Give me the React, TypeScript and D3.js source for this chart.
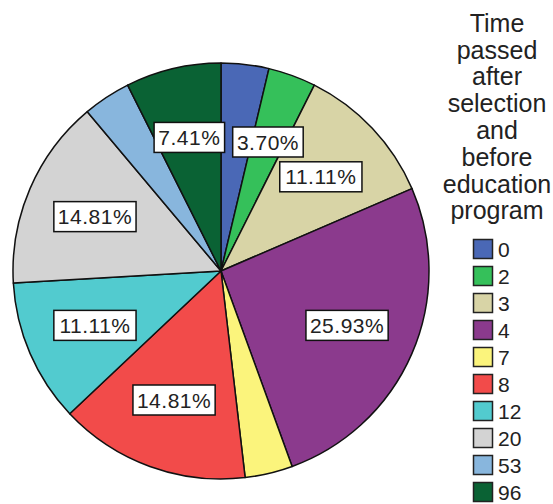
import React from "react";
import * as d3 from "d3";

const categories = ["0", "2", "3", "4", "7", "8", "12", "20", "53", "96"];
const counts = [1, 1, 3, 7, 1, 4, 3, 4, 1, 2];
const colors = ["#4a68b6", "#35c05a", "#d8d4a6", "#8b3a8d", "#fbf47c", "#f24b4a", "#52cbcf", "#d3d3d3", "#88b6dd", "#0a6234"];
const showLabel = [false, true, true, true, false, true, true, true, false, true];
const titleLines = ["Time", "passed", "after", "selection", "and", "before", "education", "program"];

const W = 553, H = 504;
const cx = 221, cy = 271, R = 208;
const FONT = "'Liberation Sans', Arial, sans-serif";

export default function App() {
  const total = d3.sum(counts);
  const pie = d3.pie<number>().sort(null).value((d) => d)(counts);
  const arc = d3.arc<d3.PieArcDatum<number>>().innerRadius(0).outerRadius(R);
  const labelArc = d3.arc<d3.PieArcDatum<number>>().innerRadius(R * 0.66).outerRadius(R * 0.66);
  const fmt = (v: number) => ((v / total) * 100).toFixed(2) + "%";
  const labelFont = 21;
  const legendY = d3.scaleBand<string>().domain(categories).range([239, 239 + 27 * categories.length]);

  return (
    <svg width={W} height={H} style={{ position: "absolute", left: 0, top: 0, background: "#fff" }}>
      <g transform={`translate(${cx},${cy})`}>
        {pie.map((p, i) => (
          <path key={i} d={arc(p) || ""} fill={colors[i]} stroke="#111" strokeWidth={1.5} strokeLinejoin="round" />
        ))}
        {pie.map((p, i) => {
          if (!showLabel[i]) return null;
          const [x, y] = labelArc.centroid(p);
          const txt = fmt(p.value);
          const w = txt.length * 11.7 + 12;
          const h = 30;
          return (
            <g key={"l" + i} transform={`translate(${x},${y})`}>
              <rect x={-w / 2} y={-h / 2} width={w} height={h} fill="#fff" stroke="#111" strokeWidth={1.5} />
              <text x={0} y={labelFont * 0.36} textAnchor="middle" fontFamily={FONT} fontSize={labelFont} fill="#222" letterSpacing={0.5}>
                {txt}
              </text>
            </g>
          );
        })}
      </g>
      <g>
        {titleLines.map((t, i) => (
          <text key={t} x={497} y={31.7 + i * 26.8} textAnchor="middle" fontFamily={FONT} fontSize={25} fill="#222">
            {t}
          </text>
        ))}
        {categories.map((c, i) => {
          const y = legendY(c)!;
          return (
            <g key={c}>
              <rect x={473.5} y={y + 0.5} width={19} height={19} fill={colors[i]} stroke="#222" strokeWidth={1.5} />
              <text x={498} y={y + 18} fontFamily={FONT} fontSize={21} fill="#222">
                {c}
              </text>
            </g>
          );
        })}
      </g>
    </svg>
  );
}
